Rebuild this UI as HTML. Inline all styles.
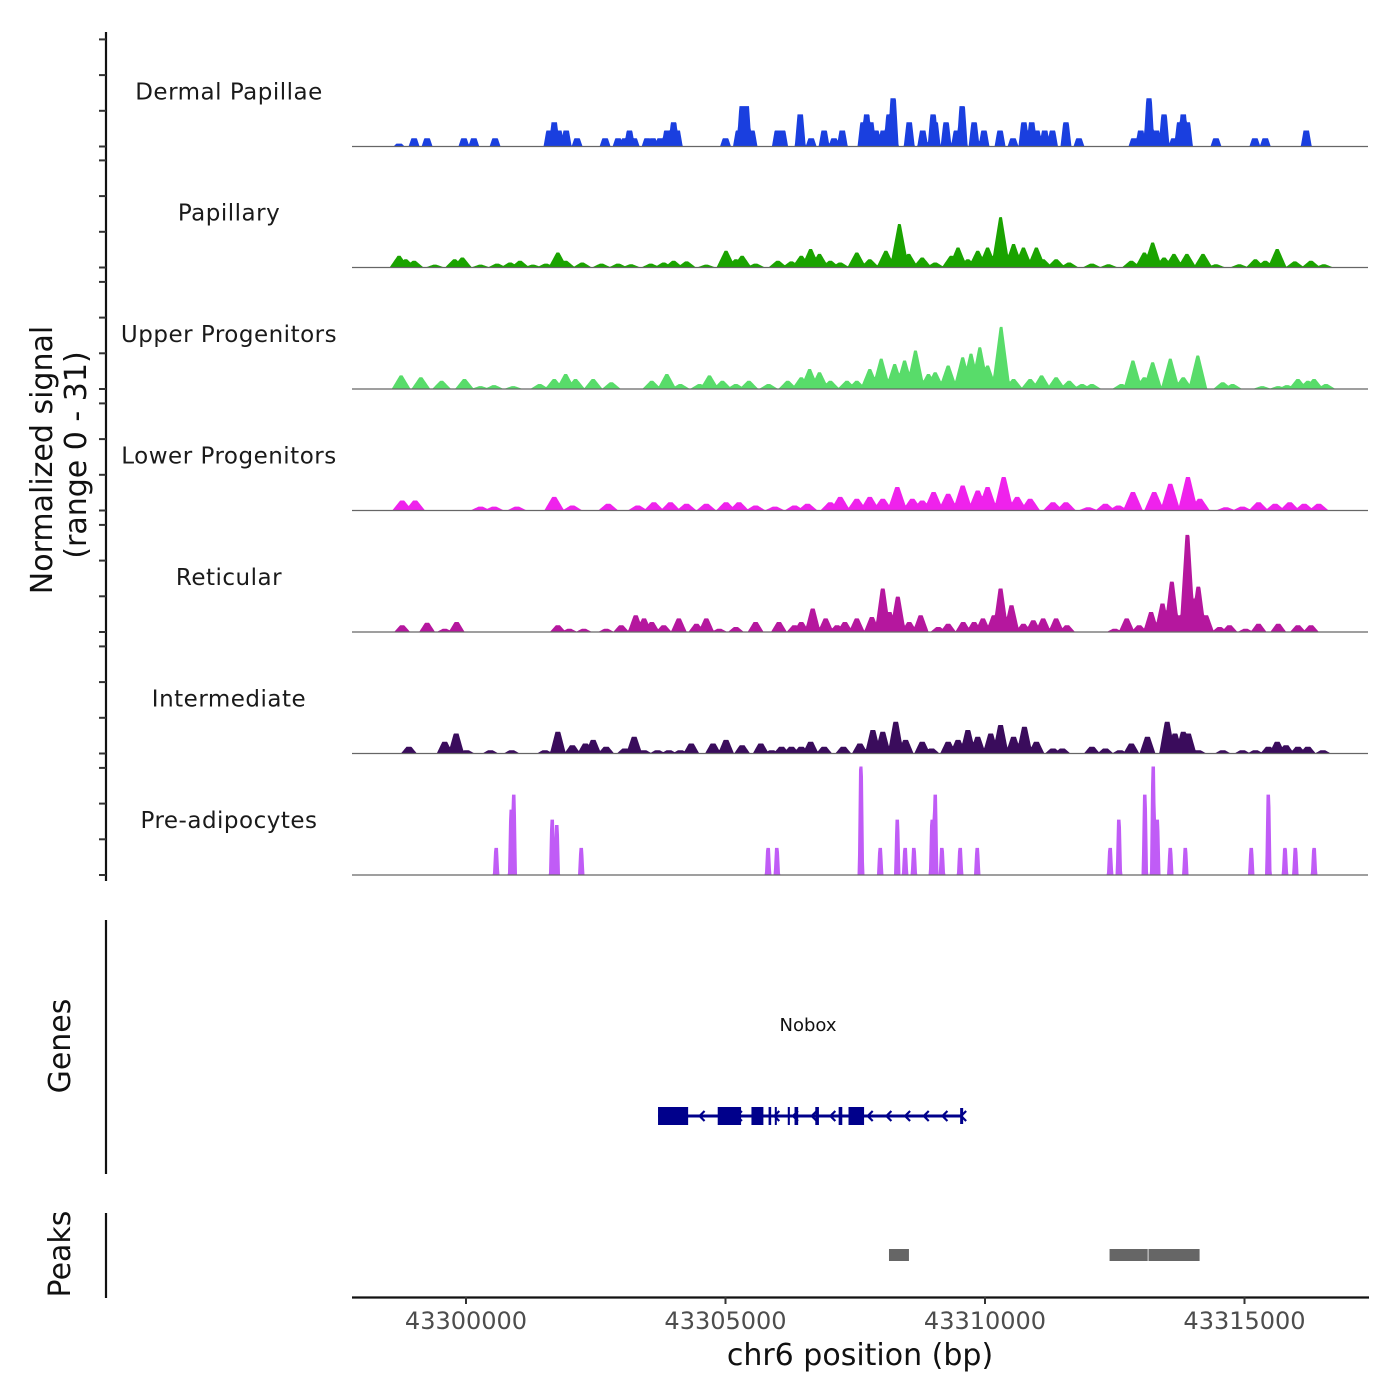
<!DOCTYPE html>
<html><head><meta charset="utf-8"><style>
html,body{margin:0;padding:0;background:#fff}
svg{display:block;font-family:"DejaVu Sans","Liberation Sans",sans-serif}
</style></head><body>
<svg id="chart" width="1400" height="1400" viewBox="0 0 1400 1400">
<g id="tracks"></g>
<line x1="106" y1="32" x2="106" y2="881" stroke="#111" stroke-width="2.2"/>
<g id="yticks"></g>
<text transform="translate(52,460) rotate(-90)" text-anchor="middle" font-size="30" fill="#111">Normalized signal</text>
<text transform="translate(86,455) rotate(-90)" text-anchor="middle" font-size="30" fill="#111">(range 0 - 31)</text>
<line x1="106" y1="920" x2="106" y2="1174" stroke="#111" stroke-width="2.2"/>
<text transform="translate(70,1046) rotate(-90)" text-anchor="middle" font-size="30" fill="#111">Genes</text>
<g id="gene"></g>
<text x="808" y="1031" text-anchor="middle" font-size="18" fill="#111">Nobox</text>
<line x1="106" y1="1213" x2="106" y2="1298" stroke="#111" stroke-width="2.2"/>
<text transform="translate(70,1254) rotate(-90)" text-anchor="middle" font-size="30" fill="#111">Peaks</text>
<g id="peaks"></g>
<line x1="352" y1="1297.5" x2="1369" y2="1297.5" stroke="#111" stroke-width="2.2"/>
<g id="xticks"></g>
<text x="860" y="1365" text-anchor="middle" font-size="30" fill="#111">chr6 position (bp)</text>
</svg>
<script>
// ---- data ----
const trackNames = ["Dermal Papillae","Papillary","Upper Progenitors","Lower Progenitors","Reticular","Intermediate","Pre-adipocytes"];
const trackColors = ["#1a3fdf","#1aa300","#58dc6a","#ef22ec","#b5179e","#3a0c5c","#c05cf6"];
// peak centers (kb offset from 43,300,000) and signal values (0-31)
const dermalPos = [-1.29,-1.0,-0.75,-0.04,0.15,0.56,1.6,1.7,1.79,1.93,2.14,2.68,2.93,3.06,3.15,3.24,3.49,3.6,3.74,3.87,4.0,4.07,5.0,5.25,5.32,5.4,5.51,6.0,6.1,6.44,6.65,6.9,7.09,7.25,7.65,7.72,7.8,7.9,8.04,8.15,8.23,8.54,8.8,9.0,9.04,9.25,9.45,9.56,9.79,9.98,10.29,10.54,10.75,10.9,11.0,11.15,11.3,11.56,11.81,12.87,13.0,13.16,13.3,13.45,13.64,13.75,13.82,13.9,14.45,15.2,15.4,16.19];
const dermalVal = [0.8,2.3,2.3,2.3,2.3,2.3,4.5,6.8,4.5,4.5,2.3,2.3,2.3,2.3,4.5,2.3,2.3,2.3,2.3,4.5,6.8,4.5,2.3,4.5,11.3,11.3,4.5,4.5,4.5,9,2.3,4.5,2.3,4.5,6.8,9,6.8,4.5,4.5,9,13.5,6.8,4.5,9,6.8,6.8,4.5,11.3,6.8,4.5,4.5,2.3,6.8,6.8,4.5,4.5,4.5,6.8,2.3,2.3,4.5,13.5,4.5,9,2.3,6.8,9,6.8,2.3,2.3,2.3,4.5];
const papillaryPos = [-1.29,-1.16,-1.0,-0.6,-0.22,-0.07,0.28,0.6,0.85,1.04,1.29,1.54,1.77,1.92,2.24,2.61,2.93,3.18,3.56,3.81,4.0,4.25,4.63,5.01,5.2,5.32,5.58,6.01,6.27,6.46,6.64,6.81,7.02,7.21,7.53,7.78,8.09,8.35,8.53,8.79,9.04,9.35,9.48,9.67,9.86,10.05,10.17,10.3,10.55,10.74,10.99,11.12,11.37,11.62,12.06,12.38,12.82,13.07,13.23,13.45,13.64,13.89,14.2,14.45,14.9,15.21,15.4,15.63,15.97,16.28,16.53];
const papillaryVal = [3.3,2.3,1.9,0.8,2.3,2.8,0.8,1.1,1.4,1.9,0.8,1.1,4.2,1.9,1.4,1.1,1.1,0.9,1.1,1.4,1.9,1.7,0.8,4.7,2.3,3.3,1.1,1.9,1.7,3.3,5.2,3.8,1.9,1.4,4.2,2.3,4.7,12.2,3.8,2.8,1.4,3.3,5.6,2.3,4.7,5.6,2.3,14.1,6.6,5.6,5.6,2.3,2.3,1.4,1.1,0.9,1.9,4.2,7,2.8,3.8,3.8,3.8,0.9,0.9,2.3,1.9,5.2,1.7,1.9,0.9];
const upperPos = [-1.25,-0.87,-0.47,-0.03,0.28,0.54,0.91,1.42,1.7,1.92,2.11,2.45,2.8,3.58,3.87,4.13,4.5,4.69,4.94,5.2,5.45,5.83,6.2,6.46,6.62,6.81,7.02,7.34,7.53,7.78,8.0,8.26,8.45,8.66,8.91,9.04,9.29,9.57,9.73,9.9,10.05,10.31,10.55,10.87,11.09,11.37,11.62,11.87,12.06,12.63,12.85,13.07,13.23,13.57,13.82,14.1,14.58,14.77,15.34,15.65,15.82,16.03,16.22,16.34,16.57];
const upperVal = [3.8,3.3,2.3,2.8,0.8,1.1,0.8,1.4,2.8,4.2,2.8,2.8,1.9,2.3,4.2,1.4,1.4,3.8,2.3,1.4,2.3,1.4,2.3,3.3,5.6,4.7,2.3,2.3,2.3,5.6,8.5,7,8,10.8,4.2,4.7,6.6,8.9,9.9,11.7,6.6,17.4,2.8,2.8,3.8,3.3,2.3,1.4,1.4,1.4,8,3.3,7.5,8.5,3.3,9.4,1.9,1.4,0.8,0.8,1.1,2.8,2.3,2.8,1.4];
const lowerPos = [-1.23,-0.98,0.28,0.54,0.98,1.7,2.05,2.74,3.31,3.62,3.94,4.25,4.63,5.01,5.26,5.58,5.95,6.33,6.58,7.02,7.21,7.53,7.78,8.03,8.31,8.6,8.79,9.01,9.29,9.57,9.86,10.05,10.36,10.62,10.87,11.31,11.56,11.99,12.32,12.57,12.85,13.26,13.57,13.91,14.14,14.64,14.96,15.27,15.59,15.87,16.15,16.43];
const lowerVal = [2.8,2.8,1.1,1.1,1.1,3.8,1.4,1.9,1.4,2.3,2.3,1.9,1.9,2.3,2.3,1.4,1.1,1.4,1.9,2.3,3.8,3.3,3.8,3.3,6.6,3.3,2.8,5.2,4.7,7,5.6,6.6,9.4,3.8,3.3,2.3,2.3,0.9,1.9,1.4,5.2,5.2,7.5,9.4,3.3,0.9,1.1,2.3,1.9,2.3,1.9,1.9];
const reticularPos = [-1.23,-0.75,-0.41,-0.18,1.77,1.99,2.27,2.7,2.99,3.27,3.43,3.58,3.81,4.1,4.44,4.63,4.88,5.2,5.58,6.03,6.33,6.46,6.68,6.93,7.15,7.3,7.53,7.82,8.03,8.16,8.32,8.54,8.76,9.1,9.29,9.58,9.79,9.96,10.17,10.3,10.51,10.74,10.93,11.12,11.37,11.58,12.5,12.73,12.97,13.2,13.42,13.6,13.72,13.9,14.01,14.11,14.26,14.52,14.71,15.02,15.27,15.65,16.03,16.28];
const reticularVal = [1.9,2.6,0.9,2.8,1.9,0.9,0.9,0.9,1.9,4.7,3.8,2.8,1.9,3.8,2.3,3.8,0.9,1.4,2.8,2.8,1.9,2.8,6.6,3.8,1.9,2.8,3.8,4.2,12.2,5.6,9.9,2.8,4.7,1.4,2.3,2.8,2.8,3.8,4.7,12.2,7.5,2.3,3.3,3.8,3.8,1.9,0.9,3.8,1.9,5.6,8,14.1,4.7,27.2,9.4,12.7,4.7,1.4,1.9,0.9,2.3,2.3,1.9,1.9];
const intermediatePos = [-1.1,-0.41,-0.19,0.01,0.47,0.88,1.52,1.77,2.05,2.3,2.45,2.7,3.06,3.24,3.43,3.69,3.91,4.13,4.34,4.76,5.01,5.32,5.68,5.89,6.08,6.27,6.46,6.64,6.9,7.27,7.59,7.84,8.03,8.28,8.47,8.79,8.97,9.29,9.48,9.67,9.86,10.11,10.3,10.55,10.76,10.99,11.31,11.49,12.06,12.32,12.6,12.82,13.13,13.51,13.66,13.82,13.92,14.11,14.58,14.96,15.21,15.46,15.63,15.8,16.03,16.22,16.51];
const intermediateVal = [1.9,3.3,5.6,0.9,0.9,0.9,0.9,6.1,2.3,2.8,3.8,1.9,1.4,4.7,0.9,0.9,0.9,0.9,2.8,2.8,3.8,2.3,2.8,0.9,1.9,1.9,1.9,3.3,1.9,1.9,2.8,6.6,6.1,8.9,3.8,3.3,1.4,3.3,3.8,6.6,4.7,5.6,8,4.7,7.5,3.3,1.4,1.4,1.9,1.4,0.9,2.8,4.7,8.9,5.6,6.1,5.6,0.9,0.9,0.9,0.9,1.9,3.3,2.3,1.9,1.9,0.9];
const preadipPos = [0.58,0.87,0.92,1.66,1.75,2.22,5.82,5.99,7.61,7.98,8.31,8.46,8.63,8.98,9.04,9.17,9.52,9.85,12.41,12.58,13.08,13.24,13.32,13.57,13.86,15.13,15.46,15.78,15.98,16.34];
const preadipVal = [7.6,18.3,22.5,15.5,14,7.6,7.6,7.6,30.4,7.6,15.5,7.6,7.6,15.5,22.5,7.6,7.6,7.6,7.6,15.5,22.5,30.4,15.5,7.6,7.6,7.6,22.5,7.6,7.6,7.6];
const xTickValues = [43300000,43305000,43310000,43315000];
const yTickValues = [0,10,20,30];
const geneStart = 43303700, geneEnd = 43309550;
const exonStarts = [43303700,43304850,43305000,43305500,43305830,43305950,43306200,43306330,43306730,43307180,43307370];
const exonEnds   = [43304280,43305000,43305300,43305730,43305880,43305980,43306240,43306400,43306800,43307250,43307670];
const peakStarts = [43308150,43312400,43313150];
const peakEnds   = [43308550,43313150,43314150];

// ---- scales ----
const X0 = 466, PXPB = 259.5/5000;
function xs(bp){ return X0 + (bp - 43300000) * PXPB; }
const baselines = [146.5,267.5,389,510.5,632,753.5,875];
const PXU = 3.57;
function ys(track, v){ return baselines[track] - v * PXU; }

const NS = "http://www.w3.org/2000/svg";
function mk(tag, parent){ const e = document.createElementNS(NS, tag); parent.appendChild(e); return e; }

const allPos = [dermalPos,papillaryPos,upperPos,lowerPos,reticularPos,intermediatePos,preadipPos];
const allVal = [dermalVal,papillaryVal,upperVal,lowerVal,reticularVal,intermediateVal,preadipVal];
const halfW = [5.5,9.5,9.5,10,8,8,3.2];
const flat = [0.5,0.15,0.15,0.2,0.25,0.3,0.6];

const tracksG = document.getElementById('tracks');
for (let t = 0; t < 7; t++) {
  const g = mk('g', tracksG);
  
  
  const lbl = mk('text', g);
  lbl.setAttribute('x', 229); lbl.setAttribute('y', baselines[t] - 47);
  lbl.setAttribute('text-anchor', 'middle'); lbl.setAttribute('font-size', '23'); lbl.setAttribute('fill', '#1a1a1a');
  lbl.setAttribute('letter-spacing', '0.5');
  lbl.textContent = trackNames[t];
  
  
  const pos = allPos[t], val = allVal[t];
  const cs = pos.map(p => xs(43300000 + p * 1000));
  const hw = halfW[t], f = flat[t];
  let pts = [];
  for (let x = 352; x <= 1368; x += 0.5) {
    let h = 0;
    for (let i = 0; i < cs.length; i++) {
      const d = Math.abs(x - cs[i]);
      if (d > hw) continue;
      const top = hw * f;
      const frac = d <= top ? 1 : 1 - (d - top) / (hw - top);
      const hh = val[i] * frac;
      if (hh > h) h = hh;
    }
    pts.push(x.toFixed(1) + ',' + ys(t, h).toFixed(2));
  }
  pts.push('1368,' + baselines[t]); pts.unshift('352,' + baselines[t]);
  const area = mk('polygon', g);
  area.setAttribute('points', pts.join(' '));
  area.setAttribute('fill', trackColors[t]);
  
  
  const bl = mk('line', g);
  bl.setAttribute('x1', 352); bl.setAttribute('x2', 1368);
  bl.setAttribute('y1', baselines[t]); bl.setAttribute('y2', baselines[t]);
  bl.setAttribute('stroke', '#666'); bl.setAttribute('stroke-width', '1.2');
  
  
}

// y ticks
const yt = document.getElementById('yticks');
for (let t = 0; t < 7; t++) {
  for (const v of yTickValues) {
    const l = mk('line', yt);
    l.setAttribute('x1', 99); l.setAttribute('x2', 106);
    l.setAttribute('y1', ys(t, v)); l.setAttribute('y2', ys(t, v));
    l.setAttribute('stroke', '#333'); l.setAttribute('stroke-width', '2');
    
    
  }
}

// gene model
const gg = document.getElementById('gene');
const GY = 1116;
const gl = mk('line', gg);
gl.setAttribute('x1', xs(geneStart)); gl.setAttribute('x2', xs(geneEnd));
gl.setAttribute('y1', GY); gl.setAttribute('y2', GY);
gl.setAttribute('stroke', '#00008b'); gl.setAttribute('stroke-width', '3');


for (let i = 0; i < exonStarts.length; i++) {
  const r = mk('rect', gg);
  const x1 = xs(exonStarts[i]), x2 = xs(exonEnds[i]);
  r.setAttribute('x', x1); r.setAttribute('width', Math.max(2, x2 - x1));
  r.setAttribute('y', GY - 9); r.setAttribute('height', 18);
  r.setAttribute('fill', '#00008b');
  
  
}
for (let bp = geneStart + 800; bp < geneEnd; bp += 360) {
  const x = xs(bp);
  const a = mk('polyline', gg);
  a.setAttribute('points', (x+5)+','+(GY-5)+' '+x+','+GY+' '+(x+5)+','+(GY+5));
  a.setAttribute('fill', 'none'); a.setAttribute('stroke', '#00008b'); a.setAttribute('stroke-width', '2.2');
  
  
}
const endTick = mk('line', gg);
endTick.setAttribute('x1', xs(geneEnd)); endTick.setAttribute('x2', xs(geneEnd));
endTick.setAttribute('y1', GY - 8); endTick.setAttribute('y2', GY + 8);
endTick.setAttribute('stroke', '#00008b'); endTick.setAttribute('stroke-width', '3');



// peaks
const pg = document.getElementById('peaks');
for (let i = 0; i < peakStarts.length; i++) {
  const r = mk('rect', pg);
  const x1 = xs(peakStarts[i]), x2 = xs(peakEnds[i]);
  r.setAttribute('x', x1); r.setAttribute('width', x2 - x1 - 0.8);
  r.setAttribute('y', 1249); r.setAttribute('height', 12);
  r.setAttribute('fill', '#666');
  
  
}

// x ticks
const xt = document.getElementById('xticks');
for (const v of xTickValues) {
  const l = mk('line', xt);
  l.setAttribute('x1', xs(v)); l.setAttribute('x2', xs(v));
  l.setAttribute('y1', 1297); l.setAttribute('y2', 1304);
  l.setAttribute('stroke', '#333'); l.setAttribute('stroke-width', '2');
  
  
  const tx = mk('text', xt);
  tx.setAttribute('x', xs(v)); tx.setAttribute('y', 1329);
  tx.setAttribute('text-anchor', 'middle'); tx.setAttribute('font-size', '24'); tx.setAttribute('fill', '#4d4d4d');
  tx.textContent = String(v);
  
  
}
</script>
</body></html>
